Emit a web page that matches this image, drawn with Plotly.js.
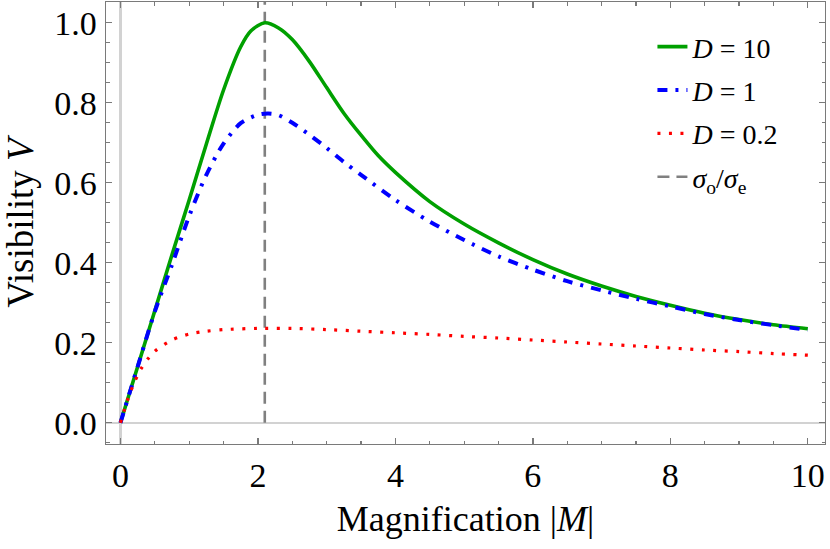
<!DOCTYPE html>
<html>
<head>
<meta charset="utf-8">
<script src="https://cdn.plot.ly/plotly-3.0.1.min.js"></script>
<style>
  html, body { margin: 0; padding: 0; background: #fff; }
  #chart { width: 830px; height: 549px; }
</style>
</head>
<body>
<div id="chart"></div>
<script>
// ---- data ----
const mD10 = [0, 0.25, 0.5, 0.75, 1.0, 1.25, 1.5, 1.75, 1.9, 2.1, 2.3, 2.5, 2.75, 3.0, 3.25, 3.5, 3.75, 4.0, 4.5, 5.0, 5.5, 6.0, 6.5, 7.0, 7.5, 8.0, 8.5, 9.0, 9.5, 10];
const vD10 = [0, 0.14, 0.28, 0.42, 0.557, 0.697, 0.832, 0.94, 0.98, 1.0, 0.987, 0.958, 0.903, 0.838, 0.774, 0.719, 0.668, 0.626, 0.553, 0.497, 0.45, 0.408, 0.372, 0.342, 0.316, 0.294, 0.274, 0.258, 0.245, 0.235];

const mD1 = [0, 0.25, 0.5, 0.75, 1.0, 1.25, 1.5, 1.75, 2.0, 2.15, 2.3, 2.5, 2.75, 3.0, 3.25, 3.5, 4.0, 4.5, 5.0, 5.5, 6.0, 6.5, 7.0, 7.5, 8.0, 8.5, 9.0, 9.5, 10];
const vD1 = [0, 0.14, 0.278, 0.395, 0.517, 0.62, 0.698, 0.749, 0.77, 0.773, 0.769, 0.75, 0.72, 0.687, 0.652, 0.62, 0.557, 0.503, 0.457, 0.416, 0.383, 0.354, 0.331, 0.31, 0.291, 0.272, 0.257, 0.244, 0.232];

const mD02 = [0, 0.1, 0.2, 0.3, 0.4, 0.5, 0.75, 1.0, 1.25, 1.5, 2.0, 2.5, 3.0, 3.5, 4.0, 4.5, 5.0, 5.5, 6.0, 6.5, 7.0, 7.5, 8.0, 8.5, 9.0, 9.5, 10];
const vD02 = [0, 0.055, 0.1, 0.135, 0.16, 0.179, 0.207, 0.222, 0.229, 0.233, 0.236, 0.236, 0.233, 0.229, 0.225, 0.221, 0.216, 0.212, 0.207, 0.202, 0.197, 0.192, 0.187, 0.182, 0.178, 0.173, 0.169];

const sigmaRatio = 2.1;               // σo/σe marker position
const seriesNames = ['<i>D</i> = 10', '<i>D</i> = 1', '<i>D</i> = 0.2', '<i>σ</i><sub>o</sub>/<i>σ</i><sub>e</sub>'];
const xTickVals = [0, 2, 4, 6, 8, 10];
const xTickText = ['0', '2', '4', '6', '8', '10'];
const yTickVals = [0, 0.2, 0.4, 0.6, 0.8, 1.0];
const yTickText = ['0.0', '0.2', '0.4', '0.6', '0.8', '1.0'];
const xRange = [-0.21, 10.25];
const yRange = [-0.053, 1.052];

// ---- chart ----
const serif = 'Liberation Serif';
const frame = '#7a7a7a';

const traces = [
  {x: [sigmaRatio, sigmaRatio], y: [0, yRange[1]], name: seriesNames[3], mode: 'lines',
   line: {color: '#808080', width: 2.6, dash: '12px,7px'}, legendrank: 4, legendgroup: 'g4'},
  {x: mD10, y: vD10, name: seriesNames[0], mode: 'lines',
   line: {color: '#00a000', width: 3.6, shape: 'spline', smoothing: 0.8}, legendrank: 1, legendgroup: 'g1'},
  {x: mD1, y: vD1, name: seriesNames[1], mode: 'lines',
   line: {color: '#0000ff', width: 4, shape: 'spline', smoothing: 0.8, dash: '10px,8px,3px,8px'}, legendrank: 2, legendgroup: 'g2'},
  {x: mD02, y: vD02, name: seriesNames[2], mode: 'lines',
   line: {color: '#ff0000', width: 3.2, shape: 'spline', smoothing: 0.8, dash: '3px,8.5px'}, legendrank: 3, legendgroup: 'g3'}
];

const axisCommon = {
  showgrid: false,
  showline: true, linecolor: frame, linewidth: 1.4,
  mirror: 'allticks',
  ticks: 'inside', ticklen: 6, tickwidth: 1.3, tickcolor: frame,
  zeroline: true, zerolinecolor: '#d2d2d2', zerolinewidth: 2.2,
  tickfont: {family: serif, size: 34, color: '#000'},
  fixedrange: true
};

const layout = {
  width: 830, height: 549,
  margin: {l: 106, r: 5, t: 2, b: 105},
  paper_bgcolor: '#fff', plot_bgcolor: '#fff',
  font: {family: serif, color: '#000'},
  showlegend: true,
  legend: {
    x: 0.76, y: 0.955, xanchor: 'left', yanchor: 'top',
    font: {family: serif, size: 28, color: '#000'},
    bgcolor: 'rgba(0,0,0,0)', borderwidth: 0,
    traceorder: 'grouped', tracegroupgap: 4
  },
  xaxis: Object.assign({}, axisCommon, {
    range: xRange, tickvals: xTickVals, ticktext: xTickText,
    ticklabelstandoff: 1,
    minor: {dtick: 0.5, ticks: 'inside', ticklen: 3.5, tickcolor: frame, tickwidth: 1.2, showgrid: false},
    title: {text: 'Magnification |<i>M</i>|', standoff: 12, font: {family: serif, size: 36, color: '#000'}}
  }),
  yaxis: Object.assign({}, axisCommon, {
    range: yRange, tickvals: yTickVals, ticktext: yTickText,
    ticklabelstandoff: 1,
    minor: {dtick: 0.05, ticks: 'inside', ticklen: 3.5, tickcolor: frame, tickwidth: 1.2, showgrid: false},
    title: {text: 'Visibility <i>V</i>', font: {family: serif, size: 37, color: '#000'}}
  })
};

Plotly.newPlot('chart', traces, layout, {displayModeBar: false, staticPlot: true});
</script>
</body>
</html>
